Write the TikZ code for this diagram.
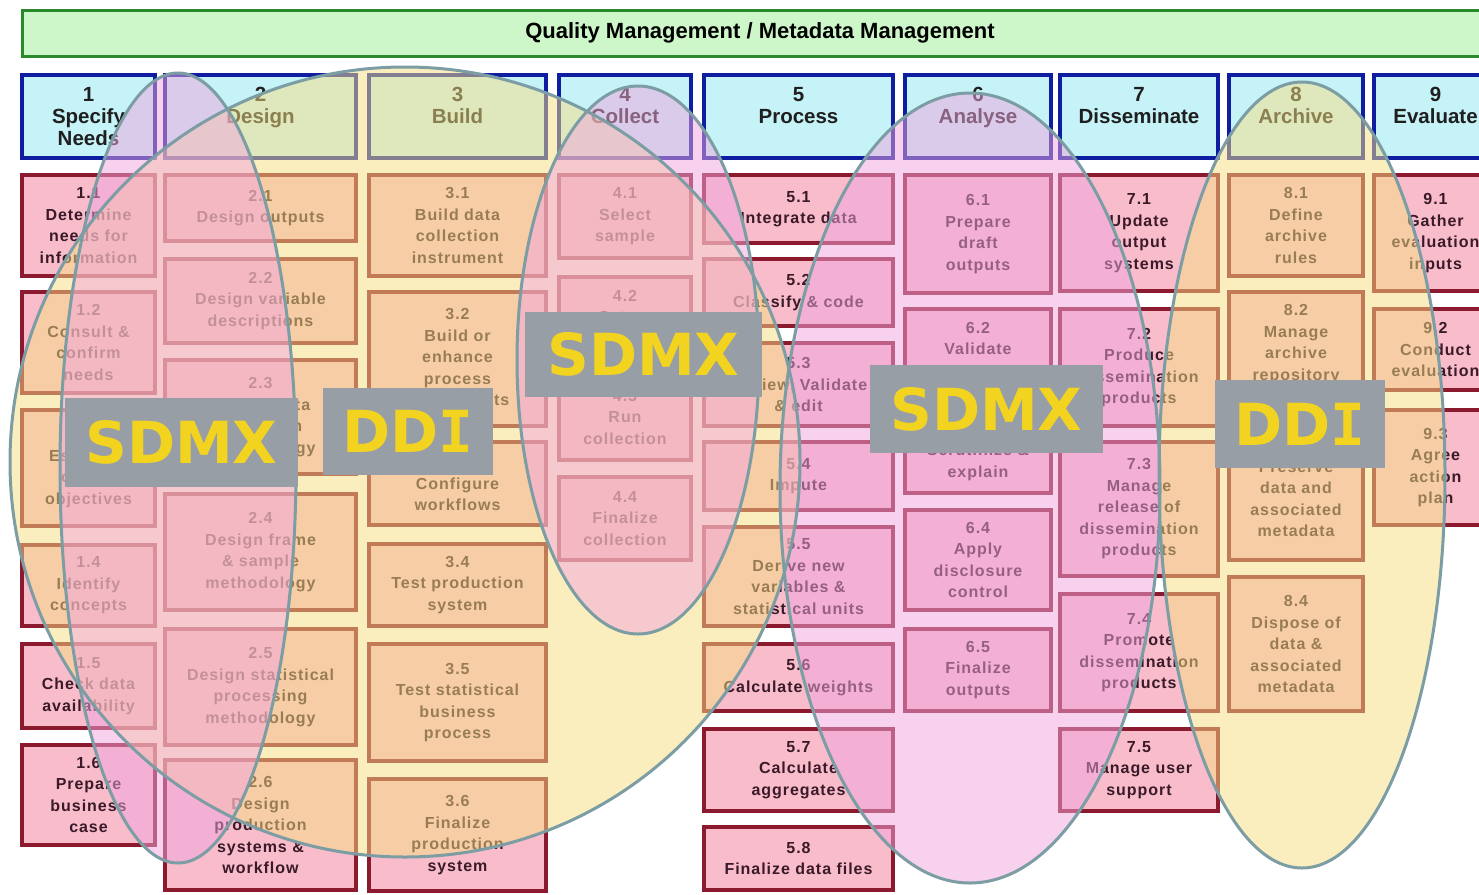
\documentclass[tikz,border=0pt]{standalone}
\usepackage{fontspec}
\setmainfont{Liberation Sans}
\newfontfamily\boxfont[LetterSpace=6]{Liberation Sans}
\newfontfamily\labfont{DejaVu Sans}
\newfontfamily\labmono{DejaVu Sans Mono}
\definecolor{subfill}{HTML}{F8BCCB}
\definecolor{subdraw}{HTML}{8B1A2E}
\definecolor{hdrfill}{HTML}{C6F3F8}
\definecolor{hdrdraw}{HTML}{0F1EA0}
\definecolor{banfill}{HTML}{CDF7C8}
\definecolor{bandraw}{HTML}{2A8A2A}
\definecolor{ddiyel}{RGB}{247,223,129}
\definecolor{sdmxpink}{RGB}{241,165,221}
\definecolor{ringcol}{HTML}{7B9DA3}
\definecolor{labgray}{HTML}{989EA6}
\definecolor{labtext}{HTML}{F2D320}
\definecolor{boxtext}{HTML}{3A1A28}
\newcommand\gb[7]{\node[#6, minimum width={(#4-#2)*1pt-4pt}, minimum height={(#5-#3)*1pt-4pt}] (#1) at ({(#2+#4)/2},{(#3+#5)/2}) {#7};}
\begin{document}
\begin{tikzpicture}[x=1pt,y=-1pt,
  sub/.style={draw=subdraw, fill=subfill, line width=4pt, inner sep=0pt, align=center,
    font=\boxfont\bfseries\fontsize{16}{21.5}\selectfont, text=boxtext},
  hdr/.style={draw=hdrdraw, fill=hdrfill, line width=4.5pt, inner sep=0pt, align=center,
    font=\bfseries\fontsize{20.5}{22}\selectfont, text=black!88},
  banner/.style={draw=bandraw, fill=banfill, line width=3pt, inner sep=0pt,
    font=\bfseries\fontsize{22}{22}\selectfont, text=black},
  lab/.style={fill=labgray, inner sep=0pt, text=labtext,
    font=\labfont\bfseries\fontsize{58}{58}\selectfont},
  ring/.style={draw=ringcol, line width=3pt}]
\useasboundingbox (0,0) rectangle (1479,894);
\clip (0,0) rectangle (1479,894);
\fill[white] (0,0) rectangle (1479,894);
% banner
\gb{qm}{20}{8}{1500}{58}{banner}{Quality Management / Metadata Management}
% headers
\gb{h1}{20}{73}{157}{160}{hdr}{1\\Specify\\Needs}
\gb{h2}{163}{73}{358}{160}{hdr}{2\\Design\\\mbox{}}
\gb{h3}{367}{73}{548}{160}{hdr}{3\\Build\\\mbox{}}
\gb{h4}{557}{73}{693}{160}{hdr}{4\\Collect\\\mbox{}}
\gb{h5}{702}{73}{895}{160}{hdr}{5\\Process\\\mbox{}}
\gb{h6}{903}{73}{1053}{160}{hdr}{6\\Analyse\\\mbox{}}
\gb{h7}{1058}{73}{1220}{160}{hdr}{7\\Disseminate\\\mbox{}}
\gb{h8}{1227}{73}{1365}{160}{hdr}{8\\Archive\\\mbox{}}
\gb{h9}{1372}{73}{1499}{160}{hdr}{9\\Evaluate\\\mbox{}}
% column 1
\gb{s11}{20}{173}{157}{278}{sub}{1.1\\Determine\\needs for\\information}
\gb{s12}{20}{290}{157}{395}{sub}{1.2\\Consult \&\\confirm\\needs}
\gb{s13}{20}{408}{157}{528}{sub}{1.3\\Establish\\output\\objectives}
\gb{s14}{20}{543}{157}{628}{sub}{1.4\\Identify\\concepts}
\gb{s15}{20}{642}{157}{730}{sub}{1.5\\Check data\\availability}
\gb{s16}{20}{743}{157}{847}{sub}{1.6\\Prepare\\business\\case}
% column 2
\gb{s21}{163}{173}{358}{243}{sub}{2.1\\Design outputs}
\gb{s22}{163}{257}{358}{345}{sub}{2.2\\Design variable\\descriptions}
\gb{s23}{163}{358}{358}{476}{sub}{2.3\\Design data\\collection\\methodology}
\gb{s24}{163}{492}{358}{612}{sub}{2.4\\Design frame\\\& sample\\methodology}
\gb{s25}{163}{627}{358}{747}{sub}{2.5\\Design statistical\\processing\\methodology}
\gb{s26}{163}{758}{358}{892}{sub}{2.6\\Design\\production\\systems \&\\workflow}
% column 3
\gb{s31}{367}{173}{548}{278}{sub}{3.1\\Build data\\collection\\instrument}
\gb{s32}{367}{290}{548}{428}{sub}{3.2\\Build or\\enhance\\process\\components}
\gb{s33}{367}{440}{548}{527}{sub}{3.3\\Configure\\workflows}
\gb{s34}{367}{542}{548}{628}{sub}{3.4\\Test production\\system}
\gb{s35}{367}{642}{548}{763}{sub}{3.5\\Test statistical\\business\\process}
\gb{s36}{367}{777}{548}{893}{sub}{3.6\\Finalize\\production\\system}
% column 4
\gb{s41}{557}{173}{693}{260}{sub}{4.1\\Select\\sample}
\gb{s42}{557}{275}{693}{359}{sub}{4.2\\Set up\\collection}
\gb{s43}{557}{372}{693}{462}{sub}{4.3\\Run\\collection}
\gb{s44}{557}{475}{693}{562}{sub}{4.4\\Finalize\\collection}
% column 5
\gb{s51}{702}{173}{895}{245}{sub}{5.1\\Integrate data}
\gb{s52}{702}{257}{895}{328}{sub}{5.2\\Classify \& code}
\gb{s53}{702}{341}{895}{428}{sub}{5.3\\Review, Validate\\\& edit}
\gb{s54}{702}{440}{895}{512}{sub}{5.4\\Impute}
\gb{s55}{702}{525}{895}{628}{sub}{5.5\\Derive new\\variables \&\\statistical units}
\gb{s56}{702}{642}{895}{713}{sub}{5.6\\Calculate weights}
\gb{s57}{702}{727}{895}{813}{sub}{5.7\\Calculate\\aggregates}
\gb{s58}{702}{825}{895}{892}{sub}{5.8\\Finalize data files}
% column 6
\gb{s61}{903}{173}{1053}{295}{sub}{6.1\\Prepare\\draft\\outputs}
\gb{s62}{903}{307}{1053}{395}{sub}{6.2\\Validate\\outputs}
\gb{s63}{903}{409}{1053}{495}{sub}{6.3\\Scrutinize \&\\explain}
\gb{s64}{903}{508}{1053}{612}{sub}{6.4\\Apply\\disclosure\\control}
\gb{s65}{903}{627}{1053}{713}{sub}{6.5\\Finalize\\outputs}
% column 7
\gb{s71}{1058}{173}{1220}{293}{sub}{7.1\\Update\\output\\systems}
\gb{s72}{1058}{307}{1220}{428}{sub}{7.2\\Produce\\dissemination\\products}
\gb{s73}{1058}{440}{1220}{578}{sub}{7.3\\Manage\\release of\\dissemination\\products}
\gb{s74}{1058}{592}{1220}{713}{sub}{7.4\\Promote\\dissemination\\products}
\gb{s75}{1058}{727}{1220}{813}{sub}{7.5\\Manage user\\support}
% column 8
\gb{s81}{1227}{173}{1365}{278}{sub}{8.1\\Define\\archive\\rules}
\gb{s82}{1227}{290}{1365}{398}{sub}{8.2\\Manage\\archive\\repository}
\gb{s83}{1227}{414}{1365}{562}{sub}{8.3\\Preserve\\data and\\associated\\metadata}
\gb{s84}{1227}{575}{1365}{713}{sub}{8.4\\Dispose of\\data \&\\associated\\metadata}
% column 9
\gb{s91}{1372}{173}{1499}{293}{sub}{9.1\\Gather\\evaluation\\inputs}
\gb{s92}{1372}{307}{1499}{392}{sub}{9.2\\Conduct\\evaluation}
\gb{s93}{1372}{408}{1499}{527}{sub}{9.3\\Agree\\action\\plan}
% translucent ellipses
\begin{scope}[fill opacity=0.5]
\fill[ddiyel] (405,462) ellipse [x radius=395pt, y radius=395pt];
\fill[sdmxpink] (178,468) ellipse [x radius=118pt, y radius=395pt];
\fill[sdmxpink] (638,360) ellipse [x radius=121pt, y radius=274pt];
\fill[sdmxpink] (970,488) ellipse [x radius=190pt, y radius=395pt];
\fill[ddiyel] (1302,475) ellipse [x radius=143pt, y radius=393pt];
\end{scope}
\draw[ring] (405,462) ellipse [x radius=395pt, y radius=395pt];
\draw[ring] (178,468) ellipse [x radius=118pt, y radius=395pt];
\draw[ring] (638,360) ellipse [x radius=121pt, y radius=274pt];
\draw[ring] (970,488) ellipse [x radius=190pt, y radius=395pt];
\draw[ring] (1302,475) ellipse [x radius=143pt, y radius=393pt];
% labels
\gb{L1}{63}{396}{300}{489}{lab}{SDMX}
\gb{L2}{321}{386}{495}{477}{lab}{DD{\labmono I}}
\gb{L3}{523}{310}{764}{399}{lab}{SDMX}
\gb{L4}{868}{363}{1105}{455}{lab}{SDMX}
\gb{L5}{1213}{378}{1387}{470}{lab}{DD{\labmono I}}
\end{tikzpicture}
\end{document}
